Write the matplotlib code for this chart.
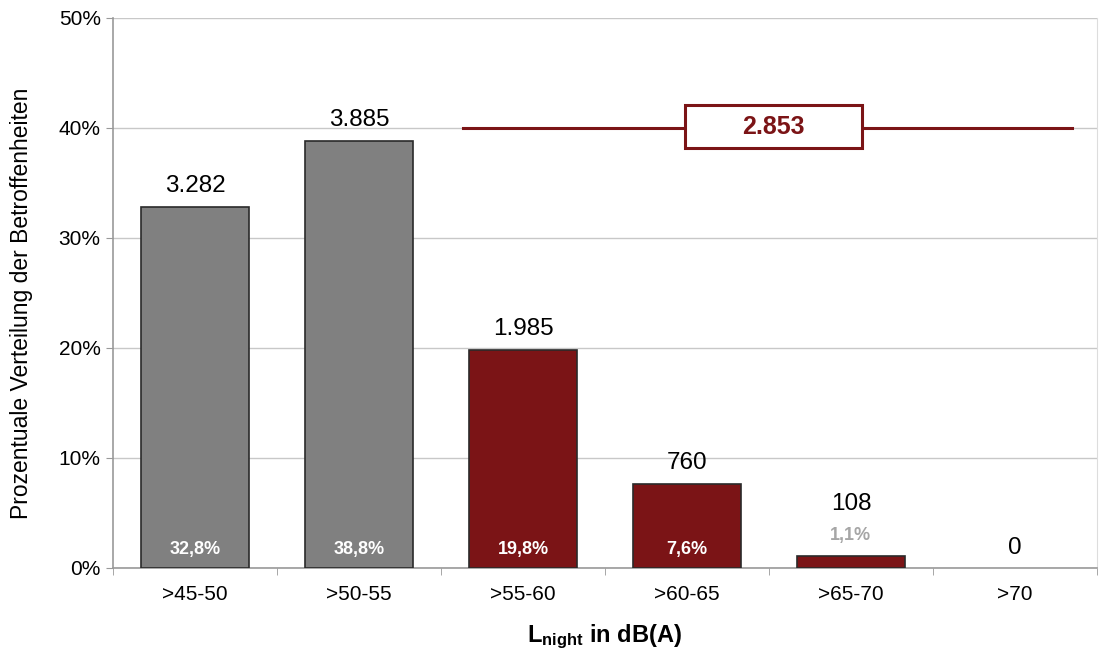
import numpy as np
import matplotlib.pyplot as plt
from matplotlib.patches import Rectangle
from matplotlib.ticker import FuncFormatter

plt.rcParams['font.family'] = ['Liberation Sans', 'DejaVu Sans']
plt.rcParams['mathtext.fontset'] = 'custom'
plt.rcParams['mathtext.rm'] = 'Liberation Sans'
plt.rcParams['mathtext.bf'] = 'Liberation Sans:bold'

# data
categories = ['>45-50', '>50-55', '>55-60', '>60-65', '>65-70', '>70']
counts = [3282, 3885, 1985, 760, 108, 0]
shares = [32.8, 38.8, 19.8, 7.6, 1.1, 0.0]
count_labels = ['3.282', '3.885', '1.985', '760', '108', '0']
share_labels = ['32,8%', '38,8%', '19,8%', '7,6%', '1,1%', '']
total_high = '2.853'
total_level = 40

grey = '#808080'
dred = '#7b1416'
colors = [grey, grey, dred, dred, dred, dred]

fig = plt.figure(figsize=(10.99, 6.58), dpi=100)
ax = fig.add_axes([0.103, 0.137, 0.895, 0.836])

x = np.arange(len(categories))
edge = ['#2a2a2a' if s > 0 else 'none' for s in shares]
ax.bar(x, shares, width=0.66, color=colors, edgecolor=edge, linewidth=1.2, zorder=3)

for i in range(len(categories)):
    if shares[i] >= 5:
        ax.text(x[i], 0.9, share_labels[i], ha='center', va='bottom',
                fontsize=13, fontweight='bold', color='white', zorder=4)
        ax.text(x[i], shares[i] + 0.9, count_labels[i], ha='center', va='bottom',
                fontsize=17.5, color='black', zorder=4)
    elif share_labels[i] != '':
        ax.text(x[i], shares[i] + 1.1, share_labels[i], ha='center', va='bottom',
                fontsize=13, fontweight='bold', color='#a6a6a6', zorder=4)
        ax.text(x[i], shares[i] + 3.7, count_labels[i], ha='center', va='bottom',
                fontsize=17.5, color='black', zorder=4)
    else:
        ax.text(x[i], shares[i] + 0.8, count_labels[i], ha='center', va='bottom',
                fontsize=17.5, color='black', zorder=4)

# line for >55 total with box
ax.plot([1.634, 2.99], [total_level, total_level], color=dred, lw=2.2, zorder=4)
ax.plot([4.07, 5.35], [total_level, total_level], color=dred, lw=2.2, zorder=4)
ax.add_patch(Rectangle((2.99, 38.2), 1.08, 3.9, fc='white', ec=dred, lw=2.2, zorder=5))
ax.text(3.53, total_level + 0.1, total_high, ha='center', va='center', fontsize=18,
        fontweight='bold', color=dred, zorder=6)

ax.set_xlim(-0.5, 5.5)
ax.set_ylim(0, 50)
ax.set_yticks(np.arange(0, 51, 10))
ax.yaxis.set_major_formatter(FuncFormatter(lambda v, p: '%d%%' % v))
ax.yaxis.grid(True, color='#c8c8c8', lw=1, zorder=0)
ax.set_xticks(x)
ax.set_xticklabels(categories)
ax.set_xticks(np.arange(-0.5, 6.0, 1), minor=True)
ax.tick_params(axis='x', which='major', length=0, labelsize=15, pad=12)
ax.tick_params(axis='x', which='minor', length=5, color='#999999')
ax.tick_params(axis='y', labelsize=15, length=5, color='#999999', pad=4)

for s in ['left', 'bottom']:
    ax.spines[s].set_color('#999999')
    ax.spines[s].set_linewidth(1.2)
ax.spines['right'].set_color('#dddddd')
ax.spines['top'].set_visible(False)

ax.set_ylabel('Prozentuale Verteilung der Betroffenheiten', fontsize=16.5)
ax.yaxis.set_label_coords(-0.082, 0.48)
ax.set_xlabel(r'$\mathbf{L_{night}}$ in dB(A)', fontsize=17, fontweight='bold', labelpad=14)

fig.savefig('out.png', dpi=100)
plt.close()
